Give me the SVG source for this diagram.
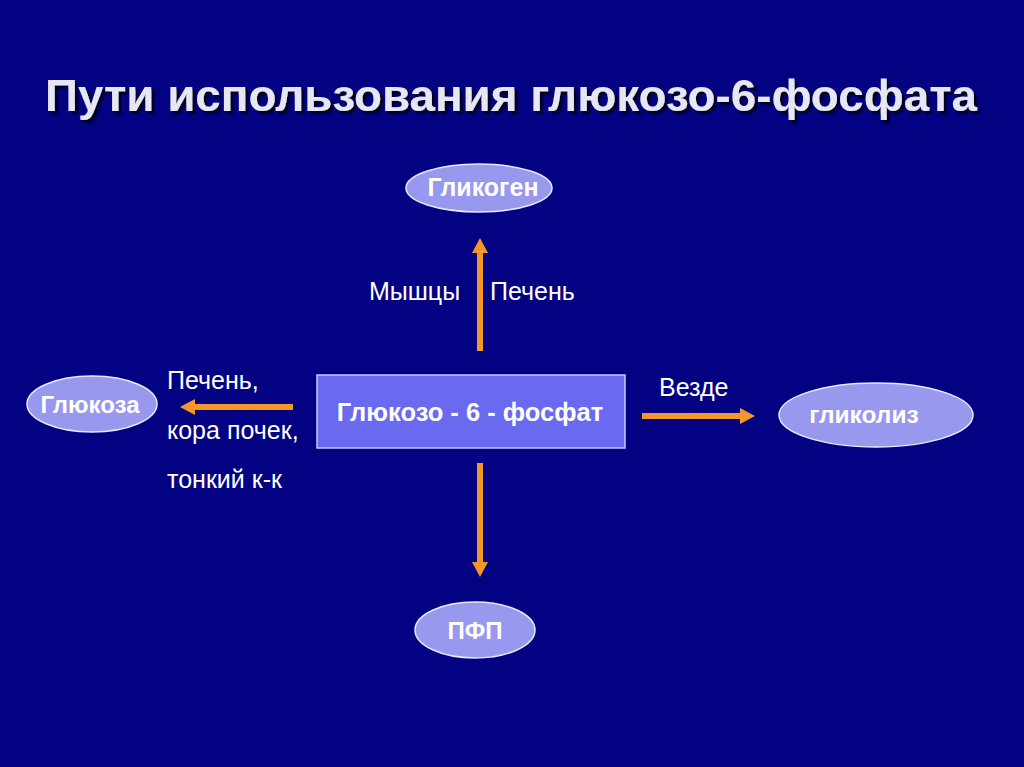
<svg xmlns="http://www.w3.org/2000/svg" width="1024" height="767" viewBox="0 0 1024 767">
<defs>
<filter id="sh" x="-5%" y="-20%" width="110%" height="150%">
<feDropShadow dx="3" dy="3" stdDeviation="0.8" flood-color="#000020" flood-opacity="1"/>
</filter>
<style>
.bg{fill:#020283}
.title{font-family:"Liberation Sans",Arial,sans-serif;font-weight:bold;font-size:45px;fill:#e6e6f4}
.ell{fill:#9898ee;stroke:#e8e8ff;stroke-width:1.5}
.box{fill:#6a6af0;stroke:#c8c8ff;stroke-width:1.5}
.nt{font-family:"Liberation Sans",Arial,sans-serif;font-weight:bold;font-size:24px;fill:#ffffff;text-anchor:middle}
.lbl{font-family:"Liberation Sans",Arial,sans-serif;font-size:25px;fill:#ffffff}
.arr{stroke:#f5962a;stroke-width:6;fill:none}
.head{fill:#f5962a}
</style>
</defs>
<rect class="bg" x="0" y="0" width="1024" height="767"/>
<text class="title" x="45" y="111" textLength="932" lengthAdjust="spacingAndGlyphs" filter="url(#sh)">Пути использования глюкозо-6-фосфата</text>
<g id="connectors">
<line class="arr" x1="480" y1="351" x2="480" y2="252"/>
<polygon class="head" points="472,253 488,253 480,238"/>
<line class="arr" x1="293" y1="407" x2="194" y2="407"/>
<polygon class="head" points="195,399 195,415 180,407"/>
<line class="arr" x1="642" y1="416" x2="741" y2="416"/>
<polygon class="head" points="740,408 740,424 755,416"/>
<line class="arr" x1="480" y1="463" x2="480" y2="563"/>
<polygon class="head" points="472,562 488,562 480,577"/>
<text class="lbl" x="369" y="300">Мышцы</text>
<text class="lbl" x="490" y="300">Печень</text>
<text class="lbl" x="167" y="389">Печень,</text>
<text class="lbl" x="167" y="439">кора почек,</text>
<text class="lbl" x="167" y="488">тонкий к-к</text>
<text class="lbl" x="659" y="396">Везде</text>
</g>
<g id="glikogen">
<ellipse class="ell" cx="479" cy="188" rx="73" ry="24"/>
<text class="nt" x="483" y="196" style="font-size:25px">Гликоген</text>
</g>
<g id="g6p">
<rect class="box" x="317" y="375" width="308" height="73"/>
<text class="nt" x="470" y="421" style="font-size:25.5px">Глюкозо - 6 - фосфат</text>
</g>
<g id="glukoza">
<ellipse class="ell" cx="92" cy="404" rx="65" ry="28"/>
<text class="nt" x="90" y="413">Глюкоза</text>
</g>
<g id="glikoliz">
<ellipse class="ell" cx="876" cy="415" rx="97" ry="32"/>
<text class="nt" x="864" y="423" style="font-size:24.5px">гликолиз</text>
</g>
<g id="pfp">
<ellipse class="ell" cx="475" cy="630" rx="60" ry="28"/>
<text class="nt" x="475" y="639">ПФП</text>
</g>
</svg>
